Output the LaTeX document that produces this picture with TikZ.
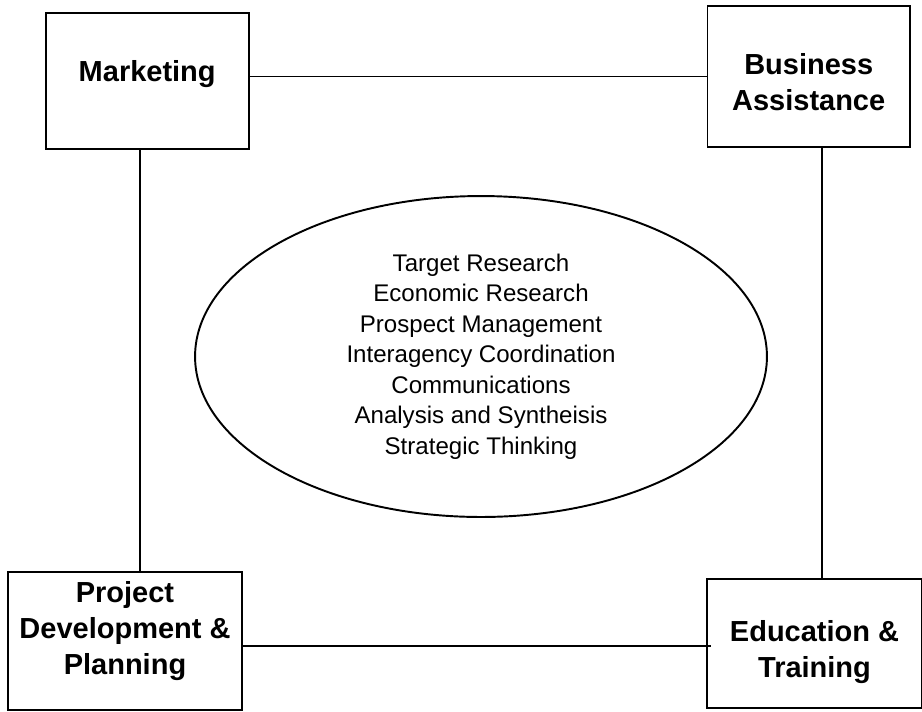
\documentclass[tikz,border=0pt]{standalone}
\usepackage{fontspec}
\setmainfont{Liberation Sans}
\usetikzlibrary{shapes.geometric,calc}

\begin{document}
\begin{tikzpicture}[x=0.02cm, y=-0.02cm, line width=1.1pt,
		area/.style={draw, rectangle, inner sep=0pt},
		areaname/.style={font=\fontsize{16.5}{20.5}\selectfont\bfseries, align=center, inner sep=0pt},
		bubble/.style={draw, ellipse, inner sep=0pt, minimum width=11.44cm, minimum height=6.42cm,
			font=\fontsize{13.7}{17.4}\selectfont, align=center}]
		\useasboundingbox (0,0) rectangle (922,711);
		% Four corner boxes
		\node[area, minimum width=4.06cm, minimum height=2.71cm] (mkt) at (147.2,81) {};
		\node[areaname] (mktname) at (147.2,74.2) {Marketing};
		\node[area, minimum width=4.05cm, minimum height=2.82cm] (bus) at (808.7,76.5) {};
		\node[areaname] (busname) at (808.7,82) {Business\\Assistance};
		\node[area, minimum width=4.68cm, minimum height=2.77cm] (prj) at (125,640.8) {};
		\node[areaname] (prjname) at (125,630.8) {Project\\Development \&\\Planning};
		\node[area, minimum width=4.29cm, minimum height=2.58cm] (edu) at (814.5,643.5) {};
		\node[areaname] (eduname) at (814.5,652.5) {Education \&\\Training};
		% Skills in the middle
		\node[bubble] (skills) at (481,356.5) {Target Research\\Economic Research\\Prospect Management\\Interagency Coordination\\Communications\\Analysis and Syntheisis\\Strategic Thinking};
		% Links between the boxes
		\draw (bus.west -| mkt.east) -- (bus.west);
		\draw ([xshift=-0.14cm]mkt.south) -- ([xshift=-0.14cm]mkt.south |- prj.north);
		\draw ([xshift=0.26cm]bus.south) -- ([xshift=0.26cm]bus.south |- edu.north);
		\draw ([yshift=-0.1cm]prj.east) -- ($(prj.east -| edu.west)+(0.09cm,-0.1cm)$);
	\end{tikzpicture}
\end{document}
